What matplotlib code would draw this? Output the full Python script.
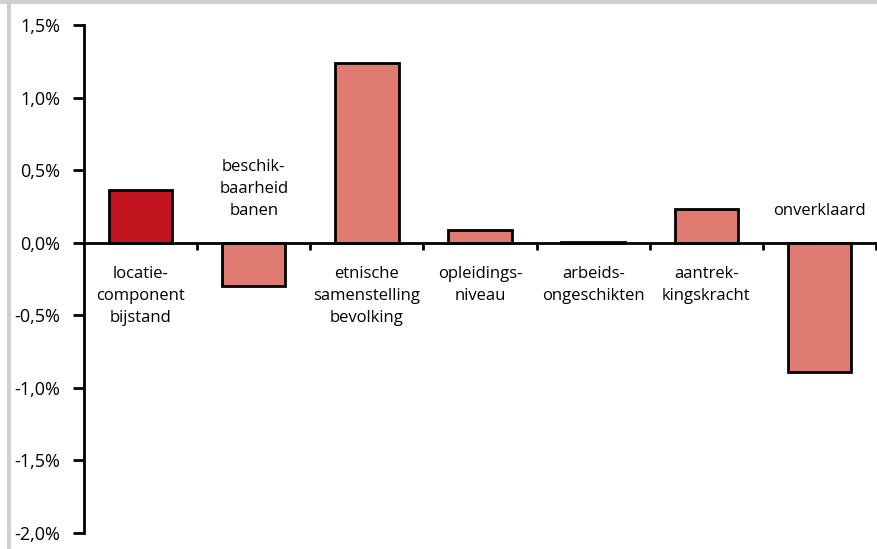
import matplotlib
matplotlib.use("Agg")
import matplotlib.pyplot as plt
from matplotlib.patches import Rectangle
from matplotlib.ticker import FuncFormatter, FixedLocator

categories = ["locatie-\ncomponent\nbijstand", "beschik-\nbaarheid\nbanen",
              "etnische\nsamenstelling\nbevolking", "opleidings-\nniveau",
              "arbeids-\nongeschikten", "aantrek-\nkingskracht", "onverklaard"]
values = [0.365, -0.295, 1.24, 0.09, 0.006, 0.235, -0.89]
colors = ["#C1141F", "#DF7B71", "#DF7B71", "#DF7B71", "#DF7B71", "#DF7B71", "#DF7B71"]
yticks = [-2.0, -1.5, -1.0, -0.5, 0.0, 0.5, 1.0, 1.5]

plt.rcParams['font.family'] = ['Open Sans', 'DejaVu Sans']
FS = 12

W, H = 877, 549
fig = plt.figure(figsize=(W / 100, H / 100), dpi=100)
fig.patch.set_facecolor("white")

# gray frame parts
fig.patches.append(Rectangle((0, 1 - 4 / H), 1, 4 / H, transform=fig.transFigure,
                             facecolor="#CFCFCF", edgecolor="none", zorder=0))
fig.patches.append(Rectangle((7 / W, 0), 4 / W, 1, transform=fig.transFigure,
                             facecolor="#CFCFCF", edgecolor="none", zorder=0))

left, right, top, bottom = 84, 876, 25, 533
ax = fig.add_axes([left / W, 1 - bottom / H, (right - left) / W, (bottom - top) / H])
ax.set_facecolor("none")

n = len(categories)
x = list(range(n))
ax.bar(x, values, width=0.56, color=colors, edgecolor="black", linewidth=2, zorder=2)

ax.set_xlim(-0.5, n - 0.5)
ax.set_ylim(-2.0, 1.5)

ax.spines['top'].set_visible(False)
ax.spines['right'].set_visible(False)
ax.spines['bottom'].set_position(('data', 0))
ax.spines['bottom'].set_linewidth(2)
ax.spines['left'].set_linewidth(2)
ax.spines['bottom'].set_zorder(3)

ax.yaxis.set_major_locator(FixedLocator(yticks))
ax.yaxis.set_major_formatter(FuncFormatter(lambda v, p: f"{v:.1f}".replace(".", ",") + "%"))
ax.tick_params(axis='y', direction='out', length=8, width=2, pad=9, labelsize=13)

ax.xaxis.set_major_locator(FixedLocator([i + 0.5 for i in range(n)]))
ax.tick_params(axis='x', direction='out', length=5, width=2, labelbottom=False)

for i, (lab, v) in enumerate(zip(categories, values)):
    if v >= 0:
        ax.annotate(lab, xy=(i, 0), xytext=(0, -23), textcoords='offset pixels',
                    ha='center', va='top', fontsize=FS, linespacing=1.5)
    else:
        ax.annotate(lab, xy=(i, 0), xytext=(0, 24), textcoords='offset pixels',
                    ha='center', va='bottom', fontsize=FS, linespacing=1.5)

fig.savefig("out.png", dpi=100, facecolor="white")
